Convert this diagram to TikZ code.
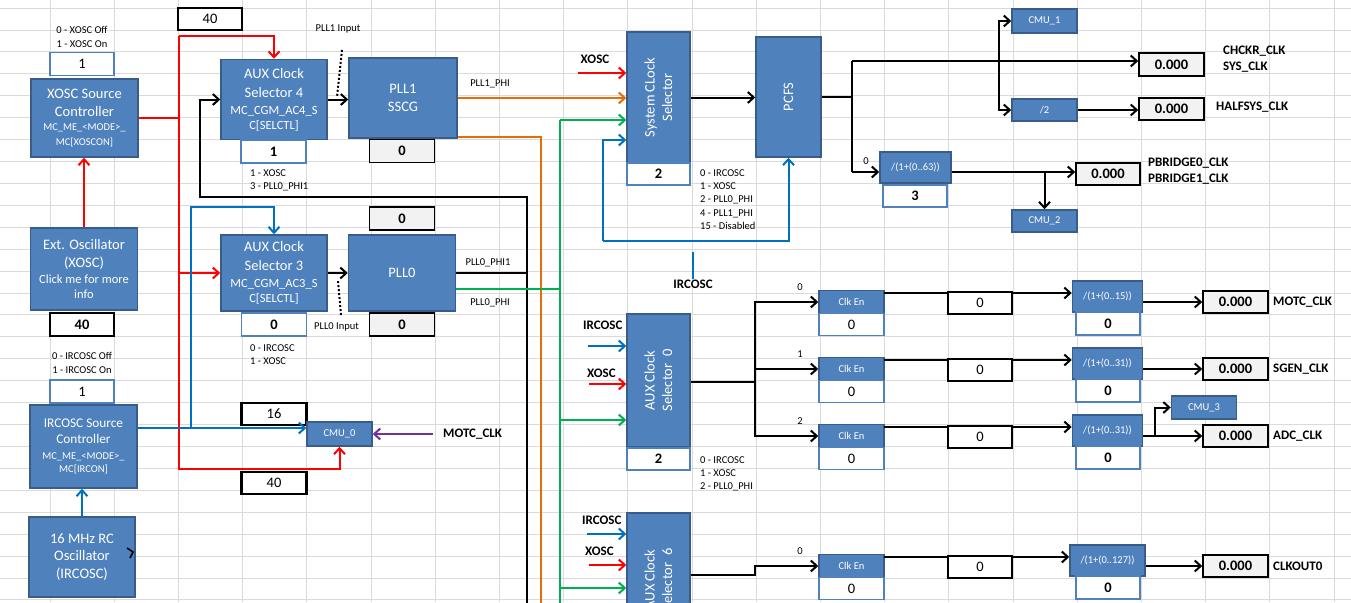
\documentclass[tikz,border=0pt]{standalone}
\usepackage{fontspec}
\setmainfont{Carlito}
\usepackage{graphicx}
\usetikzlibrary{arrows.meta}
\definecolor{gridgray}{HTML}{DADADA}
\definecolor{blkfill}{HTML}{4F81BD}
\definecolor{blkedge}{HTML}{385D8A}
\definecolor{valedge}{HTML}{4F81BD}
\definecolor{cellgray}{HTML}{F2F2F2}
\definecolor{sigred}{HTML}{FF0000}
\definecolor{sigorange}{HTML}{E46C0A}
\definecolor{siggreen}{HTML}{00B050}
\definecolor{sigblue}{HTML}{0070C0}
\definecolor{sigpurple}{HTML}{7030A0}
\newcommand{\fbig}{\fontsize{14.5}{17.5}\selectfont}% block titles, cell values
\newcommand{\fsub}{\fontsize{12.5}{15}\selectfont}% register names in blocks
\newcommand{\fsml}{\fontsize{10.5}{13.2}\selectfont}% notes, small blocks
\newcommand{\flbl}{\fontsize{13}{16}\selectfont\bfseries}% signal names
\tikzset{
  gridln/.style={gridgray, line width=0.8pt},
  clkblk/.style={draw=blkedge, fill=blkfill, line width=1.5pt, text=white,
                 align=center, inner sep=0pt},
  clktxt/.style={text=white, align=center, inner sep=0pt},
  valblue/.style={draw=valedge, fill=white, line width=1.8pt, inner sep=0pt, font=\fbig},
  valblack/.style={draw=black, fill=white, line width=2.2pt, inner sep=0pt, font=\fbig},
  valgray/.style={draw=black, fill=cellgray, line width=1.6pt, inner sep=0pt,
                  font=\fbig\bfseries},
  cellnote/.style={text=black, font=\fsml, align=left, inner sep=0pt},
  signame/.style={text=black, font=\flbl, align=left, inner sep=0pt},
  sigtip/.style={-{Straight Barb[length=6pt,width=11pt]}},
  kln/.style={black, line width=2pt},
  rln/.style={sigred, line width=2pt},
  oln/.style={sigorange, line width=2pt},
  gln/.style={siggreen, line width=2pt},
  bln/.style={sigblue, line width=2pt},
  pln/.style={sigpurple, line width=2pt},
  dotln/.style={black, line width=2pt, dash pattern=on 2pt off 2pt}
}
\begin{document}
\begin{tikzpicture}[x=1pt, y=-1pt]
  \useasboundingbox (0,0) rectangle (1351,602);
  \clip (0,0) rectangle (1351,602);
  \fill[white] (0,0) rectangle (1351,602);

  % spreadsheet grid
  \foreach \c in {0,...,20} \draw[gridln] (50+\c*64.2,0) -- (50+\c*64.2,602);
  \foreach \r in {0,...,27} \draw[gridln] (0,8+\r*21.92) -- (1351,8+\r*21.92);

  % XOSC source
  \node[cellnote, align=center] (xoscnote) at (82,37) {0 - XOSC Off\\1 - XOSC On};
  \node[valblue, minimum width=64, minimum height=23] (xoscen) at (82,64) {1};
  \node[clkblk, font=\fbig, minimum width=107, minimum height=78] (xoscctl) at (84.5,118)
    {\fbig XOSC Source\\\fbig Controller\\[-3.5pt]\fsml MC\_ME\_<MODE>\_\\[-2.5pt]\fsml MC[XOSCON]};
  \node[clkblk, font=\fbig, minimum width=107, minimum height=82] (extosc) at (84,269)
    {\fbig Ext. Oscillator\\[1pt]\fbig (XOSC)\\[-1.5pt]\fsub Click me for more\\[-2.5pt]\fsub info};
  \node[valblack, font=\fbig\bfseries, minimum width=64, minimum height=23] (xoscfreq) at (82,324.5) {40};

  % IRCOSC source
  \node[cellnote, align=center] (ircnote) at (82,363) {0 - IRCOSC Off\\1 - IRCOSC On};
  \node[valblue, minimum width=64, minimum height=23] (ircen) at (82,391.5) {1};
  \node[clkblk, font=\fontsize{13.3}{16}\selectfont, minimum width=107, minimum height=83] (ircctl) at (83.5,446.5)
    {IRCOSC Source\\Controller\\\fsml MC\_ME\_<MODE>\_\\[-3pt]\fsml MC[IRCON]};
  \node[clkblk, font=\fbig, minimum width=106, minimum height=80] (rcosc) at (82,557)
    {16 MHz RC\\Oscillator\\(IRCOSC)};
  \draw[black, line width=1.6pt] (127,548) -- (133,552) -- (130,558);

  % AUX clock selector 4 and PLL1
  \node[valblack, minimum width=64, minimum height=22] (aux4freq) at (210,19) {40};
  \node[clkblk, font=\fbig, minimum width=106, minimum height=80] (aux4) at (274,99.5)
    {\fbig AUX Clock\\[1.5pt]\fbig Selector 4\\[-0.5pt]\fsub MC\_CGM\_AC4\_S\\[-2.5pt]\fsub C[SELCTL]};
  \node[valblue, font=\fbig\bfseries, minimum width=65, minimum height=23] (aux4sel) at (273.5,151.5) {1};
  \node[cellnote, anchor=west] (aux4note) at (250,180.5) {1 - XOSC\\3 - PLL0\_PHI1};
  \node[cellnote] (pll1in) at (338,29) {PLL1 Input};
  \node[clkblk, font=\fbig, minimum width=108, minimum height=80] (pll1) at (403,98) {PLL1\\SSCG};
  \node[valgray, minimum width=65, minimum height=23] (pll1val) at (402,151) {0};
  \node[cellnote] (pll1phi) at (490,84) {PLL1\_PHI};

  % AUX clock selector 3 and PLL0
  \node[valgray, minimum width=65, minimum height=23] (pll0top) at (402,218.5) {0};
  \node[clkblk, font=\fbig, minimum width=106, minimum height=76] (aux3) at (274,273)
    {\fbig AUX Clock\\[1.5pt]\fbig Selector 3\\[-0.5pt]\fsub MC\_CGM\_AC3\_S\\[-3pt]\fsub C[SELCTL]};
  \node[valblue, font=\fbig\bfseries, minimum width=65, minimum height=23] (aux3sel) at (274,324.5) {0};
  \node[cellnote, anchor=west] (aux3note) at (250,355) {0 - IRCOSC\\1 - XOSC};
  \node[cellnote, anchor=west] (pll0in) at (314,327) {PLL0 Input};
  \node[clkblk, font=\fbig, minimum width=107, minimum height=76] (pll0) at (402,273) {PLL0};
  \node[valgray, minimum width=65, minimum height=23] (pll0val) at (402,324.5) {0};
  \node[cellnote] (pll0phi1) at (488,263) {PLL0\_PHI1};
  \node[cellnote] (pll0phi) at (490,303) {PLL0\_PHI};

  % CMU_0
  \node[valblack, minimum width=65, minimum height=22] (cmu0irc) at (274,414) {16};
  \node[clkblk, font=\fsml, minimum width=65, minimum height=24] (cmu0) at (339.5,434) {CMU\_0};
  \node[valblack, minimum width=65, minimum height=22] (cmu0xo) at (274,483) {40};
  \node[signame, anchor=west] (motc) at (443,434) {MOTC\_CLK};

  % system clock path
  \node[signame] (sysxo) at (595,59) {XOSC};
  \node[clkblk, minimum width=63, minimum height=131] (sysclk) at (658.5,97.5) {};
  \node[clktxt, rotate=90, font=\fbig] (sysclktxt) at (sysclk.center) {System CLock\\Selector};
  \node[valblue, font=\fbig\bfseries, minimum width=63, minimum height=22] (syssel) at (658.5,174) {2};
  \node[cellnote, anchor=west] (sysnote) at (700,199.5)
    {0 - IRCOSC\\1 - XOSC\\2 - PLL0\_PHI\\4 - PLL1\_PHI\\15 - Disabled};
  \node[clkblk, minimum width=65, minimum height=120] (pcfs) at (788.5,97) {};
  \node[clktxt, rotate=90, font=\fbig] (pcfstxt) at (pcfs.center) {PCFS};
  \node[signame] (irclbl) at (693,284) {IRCOSC};

  \node[clkblk, font=\fsml, minimum width=65, minimum height=24] (cmu1) at (1044.5,21) {CMU\_1};
  \node[clkblk, font=\fsml, minimum width=65, minimum height=22] (half) at (1044.5,110) {/2};
  \node[clkblk, font=\fsml, minimum width=71, minimum height=31] (pbdiv) at (915.5,167.5) {/(1+(0..63))};
  \node[valblue, font=\fbig\bfseries, minimum width=64, minimum height=22] (pbsel) at (915,196) {3};
  \node[cellnote] (pbin) at (866,161) {0};
  \node[clkblk, font=\fsml, minimum width=65, minimum height=22] (cmu2) at (1044.5,221) {CMU\_2};
  \node[valgray, minimum width=65, minimum height=23] (sysout) at (1171.5,64.5) {0.000};
  \node[valgray, minimum width=65, minimum height=22] (halfout) at (1171.5,109) {0.000};
  \node[valgray, minimum width=64, minimum height=22] (pbout) at (1108,174) {0.000};
  \node[signame, anchor=west] (syslbl) at (1223,59) {CHCKR\_CLK\\SYS\_CLK};
  \node[signame, anchor=west] (halflbl) at (1216,107) {HALFSYS\_CLK};
  \node[signame, anchor=west] (pblbl) at (1148,171.5) {PBRIDGE0\_CLK\\PBRIDGE1\_CLK};

  % AUX clock selectors 0 and 6
  \node[signame, anchor=west] (aux0irc) at (583,325) {IRCOSC};
  \node[signame, anchor=west] (aux0xo) at (587,373) {XOSC};
  \node[clkblk, minimum width=63, minimum height=133] (aux0) at (658.5,380.5) {};
  \node[clktxt, rotate=90, font=\fbig] (aux0txt) at (aux0.center) {AUX Clock\\Selector\ \ 0};
  \node[valblue, font=\fbig\bfseries, minimum width=63, minimum height=22] (aux0sel) at (658.5,459) {2};
  \node[cellnote, anchor=west] (aux0note) at (700,473.5) {0 - IRCOSC\\1 - XOSC\\2 - PLL0\_PHI};
  \node[signame, anchor=west] (aux6irc) at (582,520) {IRCOSC};
  \node[signame, anchor=west] (aux6xo) at (585,551) {XOSC};
  \node[clkblk, minimum width=63, minimum height=133] (aux6) at (658.5,579.5) {};
  \node[clktxt, rotate=90, font=\fbig] (aux6txt) at (aux6.center) {AUX Clock\\Selector\ \ 6};

  % peripheral clock rows: enable, divider, result
  \foreach \n/\cy/\rng/\dw/\sel/\lbl in {1/302/15/70/0/MOTC\_CLK, 2/369/31/70/1/SGEN\_CLK,
                                        3/436/31/70/2/ADC\_CLK, 4/566/127/75/0/CLKOUT0} {
    \node[clkblk, font=\fsml, minimum width=65, minimum height=23] (ce\n) at (851.5,\cy) {Clk En};
    \node[valblue, minimum width=65, minimum height=22] (cev\n) at (851.5,\cy+22.5) {0};
    \node[cellnote] (cesel\n) at (800,\cy-15) {\sel};
    \coordinate (ln\n) at (884,\cy-9);
    \node[clkblk, font=\fsml, minimum width=\dw, minimum height=31] (dv\n) at (1107.5,\cy-5.5) {/(1+(0..\rng))};
    \node[valblue, font=\fbig\bfseries, minimum width=64, minimum height=23] (dvv\n) at (1108,\cy+21.5) {0};
    \node[valgray, minimum width=65, minimum height=22] (out\n) at (1235.5,\cy) {0.000};
    \node[signame, anchor=west] (outlbl\n) at (1273,\cy) {\lbl};
    \draw[kln, sigtip] (ln\n) -- (ln\n -| dv\n.west);
    \node[valblack, minimum width=64, minimum height=22] (cnt\n) at (980,\cy+1) {0};
    \draw[kln, sigtip] (dv\n.east |- out\n) -- (out\n.west);
  }
  \node[clkblk, font=\fsml, minimum width=65, minimum height=23] (cmu3) at (1204,407.5) {CMU\_3};

  % red: XOSC distribution
  \coordinate (rtop) at (179,36);
  \coordinate (rbot) at (179,469);
  \draw[rln, sigtip] (extosc.north) -- (extosc.north |- xoscctl.south);
  \draw[rln] (xoscctl.east) -- (xoscctl.east -| rtop);
  \draw[rln, sigtip] (rtop) -| (aux4.north);
  \draw[rln, sigtip] (rtop) -- (rbot) -| (cmu0.south);
  \draw[rln, sigtip] (aux3.west -| rtop) -- (aux3.west);

  % blue: IRCOSC distribution
  \coordinate (bj) at (191,428);
  \coordinate (btop) at (191,207);
  \draw[bln, sigtip] (rcosc.north) -- (rcosc.north |- ircctl.south);
  \draw[bln, sigtip] (bj -| ircctl.east) -- (bj -| cmu0.west);
  \draw[bln, sigtip] (bj) -- (btop) -| (aux3.north);
  \draw[pln, sigtip] ([xshift=-10pt]motc.west) -- (cmu0.east);

  % PLL inputs
  \coordinate (d1a) at (342,50);
  \coordinate (d1b) at (337,97);
  \coordinate (d0a) at (341,315);
  \coordinate (d0b) at (338,281);
  \draw[kln, sigtip] (aux4.east) -- (aux4.east -| pll1.west);
  \draw[kln, sigtip] (aux3.east) -- (aux3.east -| pll0.west);
  \draw[dotln] (d1a) -- (d1b);
  \draw[dotln] (d0a) -- (d0b);

  % PLL outputs
  \coordinate (ktop) at (527,197);
  \coordinate (kleft) at (200,197);
  \coordinate (kbot) at (527,610);
  \draw[kln, sigtip] (kbot) -- (ktop) -- (kleft) |- (aux4.west);
  \draw[kln] (pll0.east) -- (pll0.east -| ktop);
  \coordinate (otop) at (541,137);
  \coordinate (obot) at (541,610);
  \draw[oln, sigtip] (pll1.east) -- (pll1.east -| sysclk.west);
  \draw[oln] (otop -| pll1.east) -- (otop) -- (obot);
  \coordinate (gph) at (559.5,289);
  \coordinate (gtop) at (559.5,120);
  \coordinate (gbot) at (559.5,610);
  \draw[gln] (gph -| pll0.east) -- (gph);
  \draw[gln] (gtop) -- (gbot);
  \draw[gln, sigtip] (gtop) -- (gtop -| sysclk.west);

  % system clock selector inputs
  \coordinate (sxo) at (578,73);
  \coordinate (sbl) at (603,140);
  \coordinate (sbb) at (603,241);
  \draw[rln, sigtip] (sxo) -- (sxo -| sysclk.west);
  \draw[bln, sigtip] (sbb) -- (sbl) -- (sbl -| sysclk.west);
  \draw[bln, sigtip] (sbb) -| (pcfs.south);
  \draw[bln] (irclbl.north) -- ++(0,-27);
  \draw[kln, sigtip] (sysclk.east) -- (sysclk.east -| pcfs.west);

  % PCFS fan-out
  \coordinate (ptop) at (852,61);
  \coordinate (pbot) at (852,172);
  \coordinate (cx) at (999,61);
  \draw[kln] (pcfs.east) -- (pcfs.east -| ptop);
  \draw[kln] (ptop) -- (pbot);
  \draw[kln, sigtip] (ptop) -- (ptop -| sysout.west);
  \draw[kln, sigtip] (pbot) -- (pbot -| pbdiv.west);
  \draw[kln, sigtip] (cx) |- (cmu1.west);
  \draw[kln, sigtip] (cx) |- (half.west);
  \draw[kln, sigtip] (half.east) -- (half.east -| halfout.west);
  \draw[kln, sigtip] (pbot -| pbdiv.east) -- (pbot -| pbout.west);
  \draw[kln, sigtip] (pbot -| cmu2.north) -- (cmu2.north);

  % AUX selector 0 / 6 inputs
  \coordinate (a0b) at (588,346);
  \coordinate (a0r) at (589,384);
  \coordinate (a6b) at (587,534);
  \coordinate (a6r) at (589,565);
  \draw[bln, sigtip] (a0b) -- (a0b -| aux0.west);
  \draw[rln, sigtip] (a0r) -- (a0r -| aux0.west);
  \draw[gln, sigtip] (gtop |- 0,420) -- (aux0.west |- 0,420);
  \draw[bln, sigtip] (a6b) -- (a6b -| aux6.west);
  \draw[rln, sigtip] (a6r) -- (a6r -| aux6.west);
  \draw[gln, sigtip] (gtop |- 0,588) -- (aux6.west |- 0,588);

  % AUX selector 0 / 6 outputs
  \coordinate (a0j) at (755,382);
  \coordinate (a6j) at (755,575);
  \coordinate (cj3) at (1155,436);
  \draw[kln] (aux0.east |- a0j) -- (a0j);
  \foreach \n in {1,2,3} \draw[kln, sigtip] (a0j) |- (ce\n.west);
  \draw[kln, sigtip] (aux6.east |- a6j) -- (a6j) |- (ce4.west);
  \draw[kln, sigtip] (cj3) |- (cmu3.west);
\end{tikzpicture}
\end{document}
